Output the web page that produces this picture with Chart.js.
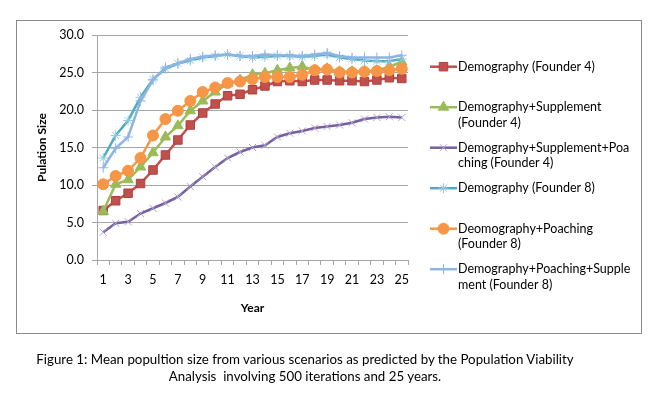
<!DOCTYPE html>
<html>
<head>
<meta charset="utf-8">
<script src="https://cdn.jsdelivr.net/npm/chart.js"></script>
<style>
  html, body { margin: 0; padding: 0; background: #fff; }
  #wrap { position: relative; width: 661px; height: 393px; overflow: hidden; }
  #caption {
    position: absolute; left: 0; top: 351px; width: 610px;
    text-align: center; font: 13.3px Lato, sans-serif; line-height: 17px; color: #000;
    white-space: pre;
  }
</style>
</head>
<body>
<div id="wrap">
  <canvas id="chart" width="661" height="393"></canvas>
  <div id="caption">Figure 1: Mean popultion size from various scenarios as predicted by the Population Viability
Analysis  involving 500 iterations and 25 years.</div>
</div>
<script>
// ── Data ─────────────────────────────────────────────
const years = ['1','2','3','4','5','6','7','8','9','10','11','12','13','14','15','16','17','18','19','20','21','22','23','24','25'];

const demoF4      = [6.6, 7.9, 8.9, 10.2, 12.0, 14.0, 16.0, 18.0, 19.6, 20.8, 21.9, 22.1, 22.7, 23.2, 23.8, 23.9, 23.8, 24.0, 24.0, 23.9, 23.9, 23.8, 24.0, 24.3, 24.2];
const suppF4      = [6.5, 10.1, 10.7, 12.4, 14.3, 16.4, 17.9, 19.9, 21.2, 22.4, 23.5, 24.0, 24.7, 24.9, 25.3, 25.6, 25.8, 25.3, 25.5, 25.1, 25.1, 25.2, 25.2, 25.8, 26.4];
const suppPoachF4 = [3.7, 4.9, 5.1, 6.2, 6.9, 7.6, 8.4, 9.8, 11.1, 12.4, 13.6, 14.4, 15.0, 15.3, 16.4, 16.9, 17.2, 17.6, 17.8, 18.0, 18.3, 18.8, 19.0, 19.1, 19.0];
const demoF8      = [13.6, 16.6, 18.6, 21.7, 24.1, 25.5, 26.2, 26.6, 27.0, 27.2, 27.4, 27.2, 27.0, 27.1, 27.2, 27.2, 27.1, 27.2, 27.4, 27.0, 26.8, 26.6, 26.5, 26.5, 26.8];
const poachF8     = [10.1, 11.2, 11.9, 13.6, 16.6, 18.8, 19.9, 21.2, 22.4, 23.0, 23.6, 23.8, 24.1, 24.4, 24.4, 24.4, 24.7, 25.3, 25.4, 25.0, 25.0, 25.1, 25.2, 25.3, 25.5];
const poachSuppF8 = [12.3, 14.9, 16.4, 21.2, 24.0, 25.7, 26.2, 26.8, 27.1, 27.3, 27.4, 27.2, 27.2, 27.4, 27.3, 27.3, 27.2, 27.4, 27.6, 27.2, 27.0, 27.0, 27.0, 27.0, 27.3];

const legendLines = [
  ['Demography (Founder 4)'],
  ['Demography+Supplement', '(Founder 4)'],
  ['Demography+Supplement+Poa', 'ching (Founder 4)'],
  ['Demography (Founder 8)'],
  ['Deomography+Poaching', '(Founder 8)'],
  ['Demography+Poaching+Supple', 'ment (Founder 8)']
];

const yTicks = [0, 5, 10, 15, 20, 25, 30];

// ── Defaults ─────────────────────────────────────────
Chart.defaults.font.family = 'Lato, sans-serif';
Chart.defaults.font.size = 12;
Chart.defaults.color = '#000';

const GRID = '#a6a6a6';

// series style helper: later series drawn on top, like Excel
const series = (i, data, line, marker, style, radius, mBorder, mWidth) => ({
  label: legendLines[i].join(''),
  data,
  order: 10 - i,
  borderColor: line,
  borderWidth: 2.5,
  tension: 0,
  pointStyle: style,
  pointRadius: radius,
  pointBackgroundColor: marker,
  pointBorderColor: mBorder,
  pointBorderWidth: mWidth,
  fill: false
});

// ── Plugins: frame + legend ──────────────────────────
const frame = {
  id: 'frame',
  beforeDraw(chart) {
    const ctx = chart.ctx;
    ctx.save();
    ctx.fillStyle = '#fff';
    ctx.fillRect(0, 0, chart.width, chart.height);
    ctx.strokeStyle = '#8a8a8a';
    ctx.lineWidth = 1;
    ctx.strokeRect(16.5, 20.5, 625, 313);
    ctx.restore();
  }
};

const sideLegend = {
  id: 'sideLegend',
  afterDraw(chart) {
    const ctx = chart.ctx;
    chart.data.datasets.forEach((ds, i) => {
      const y = 66.7 + i * 40.5;
      ctx.save();
      ctx.strokeStyle = ds.borderColor;
      ctx.lineWidth = ds.borderWidth;
      ctx.beginPath();
      ctx.moveTo(430, y);
      ctx.lineTo(457, y);
      ctx.stroke();
      ctx.fillStyle = ds.pointBackgroundColor;
      ctx.strokeStyle = ds.pointBorderColor;
      ctx.lineWidth = ds.pointBorderWidth;
      Chart.helpers.drawPoint(ctx, { pointStyle: ds.pointStyle, radius: ds.pointRadius, rotation: 0, borderWidth: ds.pointBorderWidth }, 443.5, y);
      ctx.fillStyle = '#000';
      ctx.font = '12.5px Lato, sans-serif';
      ctx.textBaseline = 'middle';
      ctx.textAlign = 'left';
      legendLines[i].forEach((t, k) => ctx.fillText(t, 458, y + k * 15.5));
      ctx.restore();
    });
  }
};

// ── Chart ────────────────────────────────────────────
new Chart(document.getElementById('chart'), {
  type: 'line',
  data: {
    labels: years,
    datasets: [
      series(0, demoF4,      '#c0504d', '#c0504d', 'rect',     6,   '#b0403d', 1),
      series(1, suppF4,      '#9bbb59', '#9bbb59', 'triangle', 6,   '#9bbb59', 1),
      series(2, suppPoachF4, '#7560a0', 'rgba(0,0,0,0)', 'crossRot', 5, '#b3a2c7', 1),
      series(3, demoF8,      '#4bacc6', 'rgba(0,0,0,0)', 'star', 5,     '#93cddd', 1),
      series(4, poachF8,     '#f79646', '#f79646', 'circle',   5.5, '#f79646', 1),
      series(5, poachSuppF8, '#8eb4e3', 'rgba(0,0,0,0)', 'cross', 5,    '#8eb4e3', 1)
    ]
  },
  options: {
    responsive: false,
    animation: false,
    devicePixelRatio: 1,
    layout: { padding: { left: 17, right: 253, top: 35, bottom: 75 } },
    plugins: { legend: { display: false }, tooltip: { enabled: false } },
    scales: {
      x: {
        offset: true,
        grid: { offset: true, drawOnChartArea: false, drawTicks: true, tickLength: 5, color: GRID },
        border: { color: GRID },
        ticks: { autoSkip: false, maxRotation: 0, padding: 7, font: { size: 12.5 }, callback: (v, i) => (i % 2 === 0 ? years[i] : '') },
        title: { display: true, text: 'Year', font: { weight: 'bold', size: 12 }, padding: { top: 0, bottom: 3 } },
        afterFit: s => { s.height = 58; }
      },
      y: {
        min: 0,
        max: 30,
        afterBuildTicks: s => { s.ticks = yTicks.map(v => ({ value: v })); },
        grid: { color: GRID, tickLength: 5 },
        border: { color: GRID },
        ticks: { padding: 8, font: { size: 12.5 }, callback: v => v.toFixed(1) },
        title: { display: true, text: 'Pulation Size', font: { weight: 'bold', size: 12 }, padding: { top: 18, bottom: 0 } },
        afterFit: s => { s.width = 80; }
      }
    }
  },
  plugins: [frame, sideLegend]
});
</script>
</body>
</html>
